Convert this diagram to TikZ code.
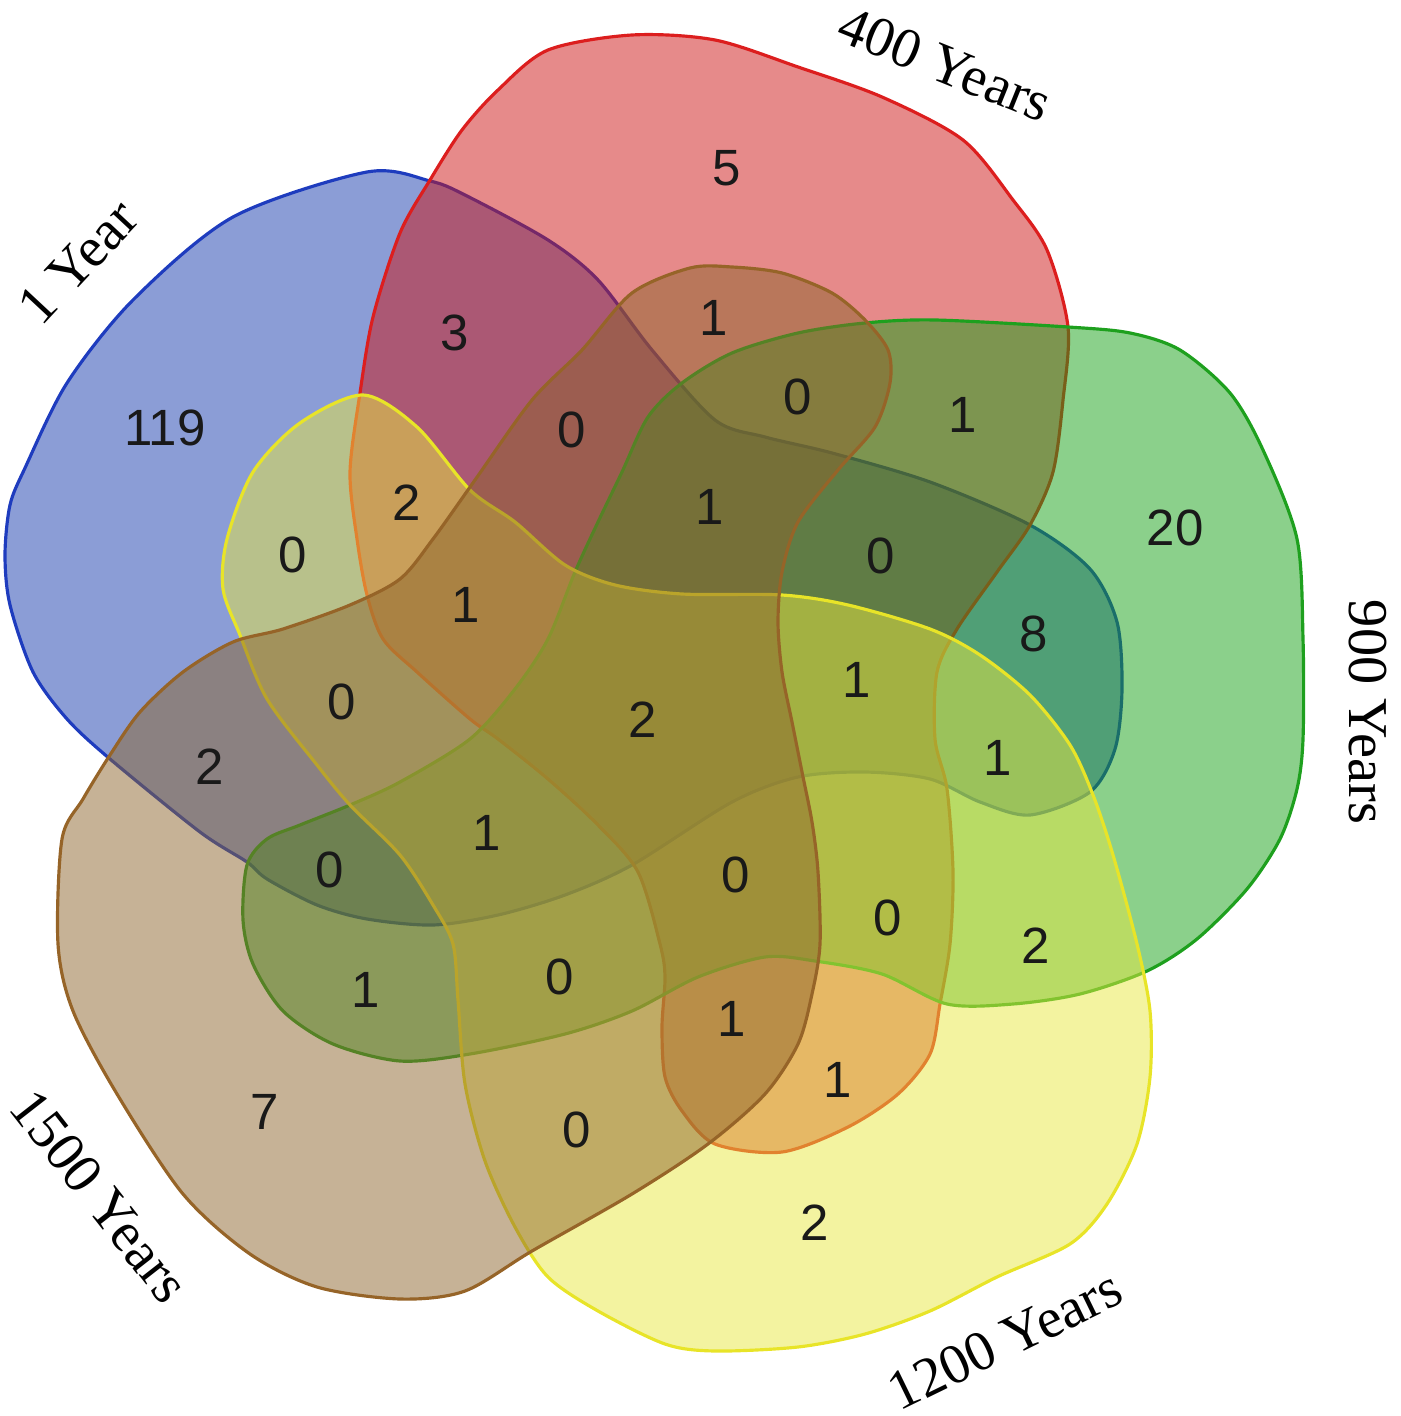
\documentclass[tikz,border=0pt]{standalone}
\usepackage{fontspec}
\setmainfont{Liberation Serif}
\newfontfamily\countfont{Liberation Sans}
\definecolor{fillA}{RGB}{23,59,173}
\definecolor{lineA}{RGB}{30,60,190}
\definecolor{fillB}{RGB}{205,21,21}
\definecolor{lineB}{RGB}{220,30,30}
\definecolor{fillC}{RGB}{23,161,23}
\definecolor{lineC}{RGB}{30,160,30}
\definecolor{fillD}{RGB}{231,231,65}
\definecolor{lineD}{RGB}{232,228,40}
\definecolor{fillE}{RGB}{141,101,45}
\definecolor{lineE}{RGB}{150,100,40}

\begin{document}
\begin{tikzpicture}[x=0.01cm,y=-0.01cm,
    venn/.style={line width=0.9pt, fill opacity=0.5, draw opacity=1},
    cnt/.style={font=\countfont\fontsize{14.5}{17}\selectfont, text=black!90},
    setlabel/.style={font=\fontsize{16}{19}\selectfont, inner sep=0pt}]
    \useasboundingbox (0,0) rectangle (1400,1416);
    % 1 Year
    \draw[venn, draw=lineA, fill=fillA] plot[smooth cycle] coordinates {
        (367,172) (430,181) (465,195) (548,240) (598,280) (652,350) (715,420) (765,437)
        (832,453) (930,482) (1030,525) (1090,569) (1117,622) (1122,689) (1115,749) (1090,792)
        (1030,815) (980,802) (930,779) (865,772) (798,777) (732,802) (632,865) (565,895)
        (498,915) (433,925) (367,919) (317,905) (267,879) (247,862) (200,832) (110,759)
        (67,719) (33,672) (10,605) (5,555) (10,505) (25,468) (67,383) (133,300) (233,217)};
    % 400 Years
    \draw[venn, draw=lineB, fill=fillB] plot[smooth cycle] coordinates {
        (632,35) (715,40) (798,67) (882,97) (963,140) (1013,200) (1047,250) (1068,327)
        (1063,400) (1053,472) (1030,525) (997,572) (957,629) (937,672) (935,739) (947,789)
        (953,872) (950,944) (940,1004) (930,1054) (898,1094) (848,1127) (782,1152) (715,1144)
        (682,1111) (665,1077) (662,1027) (665,977) (660,944) (638,872) (598,825) (548,779)
        (498,739) (470,719) (417,672) (383,639) (367,595) (357,539) (350,472) (360,393)
        (373,317) (400,233) (430,180) (462,130) (498,90) (548,50)};
    % 900 Years
    \draw[venn, draw=lineC, fill=fillC] plot[smooth cycle] coordinates {
        (622,472) (648,417) (682,383) (732,353) (798,333) (865,323) (935,320) (1068,327)
        (1130,333) (1180,350) (1230,393) (1263,450) (1297,539) (1303,639) (1303,739) (1297,789)
        (1280,839) (1247,889) (1197,939) (1147,971) (1080,994) (1013,1004) (947,1004) (882,974)
        (815,961) (765,957) (698,977) (632,1011) (565,1034) (470,1054) (400,1061) (333,1044)
        (283,1011) (253,964) (243,920) (247,865) (267,839) (300,825) (350,805) (400,782)
        (470,739) (515,689) (548,639) (575,572) (598,522)};
    % 1200 Years
    \draw[venn, draw=lineD, fill=fillD] plot[smooth cycle] coordinates {
        (363,395) (417,427) (470,490) (515,522) (565,565) (615,585) (682,594) (782,595)
        (848,605) (930,629) (980,655) (1030,695) (1070,745) (1093,795) (1113,855) (1137,944)
        (1150,1011) (1150,1077) (1137,1144) (1107,1204) (1070,1244) (997,1277) (930,1311) (865,1334)
        (798,1347) (715,1351) (665,1344) (598,1311) (548,1277) (515,1227) (485,1161) (465,1084)
        (458,1000) (453,944) (433,905) (400,855) (350,805) (317,765) (267,699) (240,635)
        (223,589) (227,539) (253,472) (300,423)};
    % 1500 Years
    \draw[venn, draw=lineE, fill=fillE] plot[smooth cycle] coordinates {
        (690,268) (732,267) (782,273) (832,293) (865,320) (888,350) (890,383) (875,427)
        (838,470) (798,522) (782,572) (778,622) (782,672) (792,722) (802,772) (812,822)
        (818,872) (820,944) (812,994) (798,1044) (765,1094) (708,1144) (632,1194) (532,1251)
        (465,1291) (400,1299) (317,1287) (250,1254) (183,1194) (117,1094) (73,1011) (58,944)
        (62,839) (83,799) (110,755) (140,712) (183,672) (233,642) (283,629) (350,605)
        (400,579) (433,539) (475,480) (532,400) (582,350) (632,293)};

    % set names
    \node[setlabel, rotate=47] (nameA) at (78,262) {1 Year};
    \node[setlabel, rotate=-22] (nameB) at (945,64) {400 Years};
    \node[setlabel, rotate=-90] (nameC) at (1368,712) {900 Years};
    \node[setlabel, rotate=26] (nameD) at (1005,1340) {1200 Years};
    \node[setlabel, rotate=-52] (nameE) at (100,1196) {1500 Years};

    % counts
    \node[cnt] (c1) at (165,428) {119};
    \node[cnt] (c2) at (727,168) {5};
    \node[cnt] (c3) at (455,333) {3};
    \node[cnt] (c4) at (714,318) {1};
    \node[cnt] (c5) at (572,430) {0};
    \node[cnt] (c6) at (798,397) {0};
    \node[cnt] (c7) at (963,415) {1};
    \node[cnt] (c8) at (407,503) {2};
    \node[cnt] (c9) at (293,555) {0};
    \node[cnt] (c10) at (710,507) {1};
    \node[cnt] (c11) at (881,556) {0};
    \node[cnt] (c12) at (1175,528) {20};
    \node[cnt] (c13) at (466,605) {1};
    \node[cnt] (c14) at (1034,634) {8};
    \node[cnt] (c15) at (342,702) {0};
    \node[cnt] (c16) at (643,720) {2};
    \node[cnt] (c17) at (857,680) {1};
    \node[cnt] (c18) at (998,758) {1};
    \node[cnt] (c19) at (210,767) {2};
    \node[cnt] (c20) at (487,833) {1};
    \node[cnt] (c21) at (330,870) {0};
    \node[cnt] (c22) at (736,875) {0};
    \node[cnt] (c23) at (888,918) {0};
    \node[cnt] (c24) at (1036,946) {2};
    \node[cnt] (c25) at (366,990) {1};
    \node[cnt] (c26) at (560,977) {0};
    \node[cnt] (c27) at (732,1019) {1};
    \node[cnt] (c28) at (838,1080) {1};
    \node[cnt] (c29) at (265,1112) {7};
    \node[cnt] (c30) at (577,1130) {0};
    \node[cnt] (c31) at (815,1223) {2};
\end{tikzpicture}
\end{document}
